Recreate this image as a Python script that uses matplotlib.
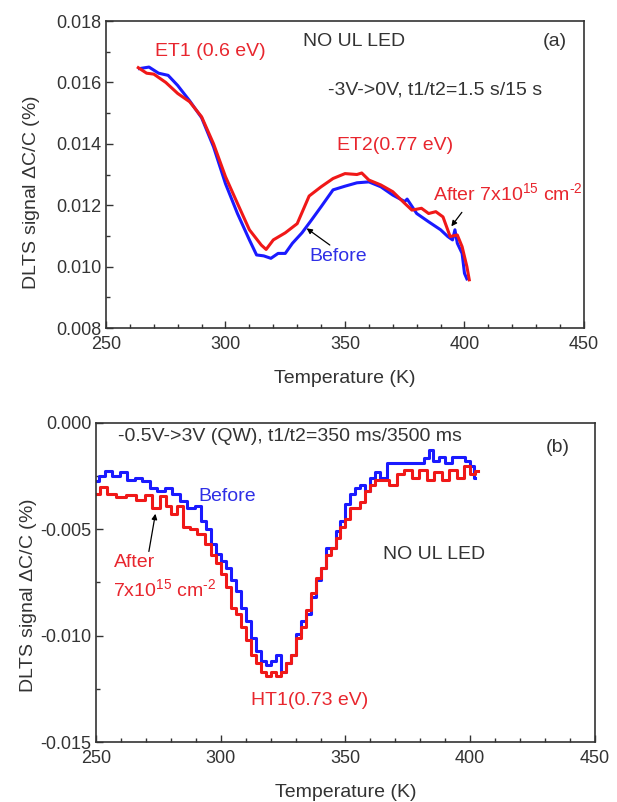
import matplotlib
matplotlib.use("Agg")
import matplotlib.pyplot as plt

plt.rcParams['font.family'] = ['Liberation Sans', 'DejaVu Sans']
plt.rcParams['mathtext.fontset'] = 'custom'
plt.rcParams['mathtext.rm'] = 'Liberation Sans'
plt.rcParams['mathtext.it'] = 'Liberation Sans'

# panel (a): -3V -> 0V
t_a_before = [264, 268, 272, 276, 280, 285, 290, 295, 300, 305, 310, 313, 316, 319,
              322, 325, 328, 332, 336, 340, 345, 350, 355, 360, 365, 370, 375, 376,
              380, 385, 390, 393, 395, 396, 397, 399, 400, 401]
s_a_before = [0.01645, 0.0165, 0.0163, 0.01623, 0.0159, 0.0154, 0.01485, 0.0139, 0.0127,
              0.01173, 0.01087, 0.01038, 0.01035, 0.01027, 0.01043, 0.01043, 0.01076,
              0.0111, 0.01152, 0.01195, 0.0125, 0.01262, 0.01273, 0.01276, 0.0126,
              0.01233, 0.01212, 0.0122, 0.01173, 0.01146, 0.0112, 0.01098, 0.01087,
              0.0112, 0.01076, 0.01043, 0.00978, 0.0096]
t_a_after = [263.5, 267, 270, 275, 280, 285, 290, 295, 300, 305, 310, 315, 317, 320,
             325, 330, 335, 340, 345, 350, 355, 357, 360, 365, 370, 375, 378, 382,
             385, 388, 391, 394, 397, 399, 401, 402]
s_a_after = [0.01648, 0.0163, 0.01627, 0.016, 0.01564, 0.01537, 0.01488, 0.0140, 0.01293,
             0.01206, 0.0112, 0.0107, 0.01056, 0.01087, 0.0111, 0.0114, 0.0123, 0.0126,
             0.01287, 0.01303, 0.0130, 0.01305, 0.01282, 0.01266, 0.01244, 0.01206,
             0.01184, 0.0119, 0.01173, 0.01179, 0.01162, 0.01098, 0.01103, 0.01065,
             0.0100, 0.00957]

# panel (b): -0.5V -> 3V (QW)
t_b_before = [250, 252, 255, 258, 261, 264, 267, 270, 273, 276, 279, 282, 285, 288,
              291, 293, 295, 297, 299, 301, 303, 305, 307, 309, 311, 313, 315, 317,
              319, 321, 323, 325, 327, 329, 331, 333, 335, 337, 339, 341, 343, 345,
              347, 349, 351, 353, 355, 357, 359, 361, 363, 365, 368, 372, 376, 380,
              383, 384, 386, 389, 391, 394, 397, 399, 401, 402]
s_b_before = [-0.00273, -0.0025, -0.00227, -0.0025, -0.0023, -0.00266, -0.00258, -0.00273,
              -0.00305, -0.0032, -0.00305, -0.00336, -0.00367, -0.00398, -0.0039, -0.0046,
              -0.005, -0.0057, -0.00617, -0.0065, -0.0068, -0.0074, -0.0079, -0.0087,
              -0.0093, -0.0101, -0.0107, -0.0112, -0.0114, -0.0112, -0.0109, -0.0117,
              -0.0113, -0.0109, -0.0099, -0.0093, -0.0090, -0.0082, -0.0074, -0.0068,
              -0.0059, -0.0059, -0.0051, -0.0046, -0.0038, -0.00336, -0.00305, -0.0029,
              -0.0032, -0.0026, -0.0023, -0.0026, -0.00188, -0.00188, -0.00188, -0.00188,
              -0.00164, -0.00125, -0.0018, -0.0016, -0.00188, -0.0016, -0.0016, -0.0018,
              -0.0020, -0.0026]
t_b_after = [250, 253, 256, 260, 264, 268, 271, 274, 277, 279, 281, 284, 286, 289,
             292, 295, 297, 299, 301, 303, 305, 307, 309, 311, 313, 315, 317, 319,
             321, 323, 325, 327, 329, 331, 333, 335, 337, 339, 341, 343, 345, 347,
             349, 351, 353, 355, 357, 359, 361, 363, 366, 369, 372, 375, 378, 381,
             384, 387, 390, 393, 396, 399, 401, 403]
s_b_after = [-0.00336, -0.003, -0.00336, -0.0035, -0.0034, -0.0036, -0.0034, -0.0040,
             -0.00344, -0.0039, -0.0043, -0.0039, -0.0049, -0.0050, -0.0052, -0.0057,
             -0.0062, -0.0066, -0.0071, -0.0077, -0.0087, -0.0090, -0.0096, -0.0102,
             -0.0109, -0.0113, -0.0117, -0.0119, -0.0117, -0.0119, -0.0117, -0.0113,
             -0.0109, -0.0101, -0.0096, -0.0088, -0.0080, -0.0073, -0.0068, -0.0062,
             -0.0059, -0.0054, -0.0049, -0.0045, -0.0040, -0.0040, -0.0037, -0.0032,
             -0.0029, -0.0027, -0.0027, -0.0029, -0.0024, -0.0022, -0.0026, -0.0022,
             -0.0027, -0.0023, -0.0027, -0.0022, -0.0026, -0.0020, -0.0024, -0.00227]

RED = '#f01818'
BLUE = '#1a1aff'
TXT_RED = '#e8262e'
TXT_BLUE = '#2f2fe6'
DARK = '#333333'

fig = plt.figure(figsize=(6.17, 8.02), dpi=100)
ax1 = fig.add_axes([0.1718, 0.591, 0.7747, 0.3828])
ax2 = fig.add_axes([0.1556, 0.0748, 0.8087, 0.3978])


def style(ax, ylim, yticks, yminor):
    ax.set_xlim(250, 450)
    ax.set_ylim(*ylim)
    ax.set_xticks([250, 300, 350, 400, 450])
    ax.set_xticks(range(260, 450, 10), minor=True)
    ax.set_yticks(yticks)
    ax.set_yticks(yminor, minor=True)
    ax.tick_params(which='both', direction='in', top=False, right=False,
                   labelsize=13, colors=DARK, labelcolor='#333333')
    ax.tick_params(axis='x', pad=6)
    ax.tick_params(which='major', length=5, width=1)
    ax.tick_params(which='minor', length=3, width=1)
    for sp in ax.spines.values():
        sp.set_color(DARK)
        sp.set_linewidth(1.2)
    ax.set_xlabel('Temperature (K)', fontsize=14, color=DARK, labelpad=12)
    ax.set_ylabel('DLTS signal $\\Delta$C/C (%)', fontsize=14, color=DARK)
    ax.yaxis.set_major_formatter(matplotlib.ticker.FormatStrFormatter('%.3f'))


SUP = '7x10$^{15}$ cm$^{\u2010 2}$'

# ---- panel (a)
ax1.plot(t_a_before, s_a_before, color=BLUE, lw=2.2)
ax1.plot(t_a_after, s_a_after, color=RED, lw=2.2)
style(ax1, (0.008, 0.018), [0.008, 0.010, 0.012, 0.014, 0.016, 0.018],
      [0.009, 0.011, 0.013, 0.015, 0.017])
ax1.yaxis.set_label_coords(-0.134, 0.44)

ax1.text(270.5, 0.0170, 'ET1 (0.6 eV)', color=TXT_RED, fontsize=14, va='center')
ax1.text(354, 0.01732, 'NO UL LED', color=DARK, fontsize=14, ha='center', va='center')
ax1.text(438, 0.01732, '(a)', color=DARK, fontsize=14, ha='center', va='center')
ax1.text(343, 0.01575, '-3V->0V, t1/t2=1.5 s/15 s', color=DARK, fontsize=14, va='center')
ax1.text(346.5, 0.01396, 'ET2(0.77 eV)', color=TXT_RED, fontsize=14, va='center')
ax1.text(387, 0.01238, 'After ' + SUP, color=TXT_RED, fontsize=14, va='center')
ax1.text(335, 0.01033, 'Before', color=TXT_BLUE, fontsize=14, va='center')
ax1.annotate('', xy=(393.8, 0.01124), xytext=(399.6, 0.01184),
             arrowprops=dict(arrowstyle='-|>', color='black', lw=0.9,
                             mutation_scale=8))
ax1.annotate('', xy=(333, 0.0113), xytext=(344.6, 0.01065),
             arrowprops=dict(arrowstyle='-|>', color='black', lw=0.9,
                             mutation_scale=8))

# ---- panel (b)
ax2.plot(t_b_before, s_b_before, color=BLUE, lw=2.2, drawstyle='steps-mid')
ax2.plot(t_b_after, s_b_after, color=RED, lw=2.2, drawstyle='steps-mid')
style(ax2, (-0.015, 0.0), [-0.015, -0.010, -0.005, 0.0],
      [-0.0125, -0.0075, -0.0025])
ax2.yaxis.set_label_coords(-0.115, 0.46)

ax2.text(259, -0.000625, '-0.5V->3V (QW), t1/t2=350 ms/3500 ms', color=DARK,
         fontsize=14, va='center')
ax2.text(435, -0.00114, '(b)', color=DARK, fontsize=14, ha='center', va='center')
ax2.text(291, -0.00344, 'Before', color=TXT_BLUE, fontsize=14, va='center')
ax2.text(365, -0.00617, 'NO UL LED', color=DARK, fontsize=14, va='center')
ax2.text(257, -0.00656, 'After', color=TXT_RED, fontsize=14, va='center')
ax2.text(257, -0.00781, SUP, color=TXT_RED, fontsize=14, va='center')
ax2.text(312, -0.01305, 'HT1(0.73 eV)', color=TXT_RED, fontsize=14, va='center')
ax2.annotate('', xy=(274, -0.00414), xytext=(271, -0.00617),
             arrowprops=dict(arrowstyle='-|>', color='black', lw=0.9,
                             mutation_scale=8))

fig.savefig('out.png', dpi=100)
